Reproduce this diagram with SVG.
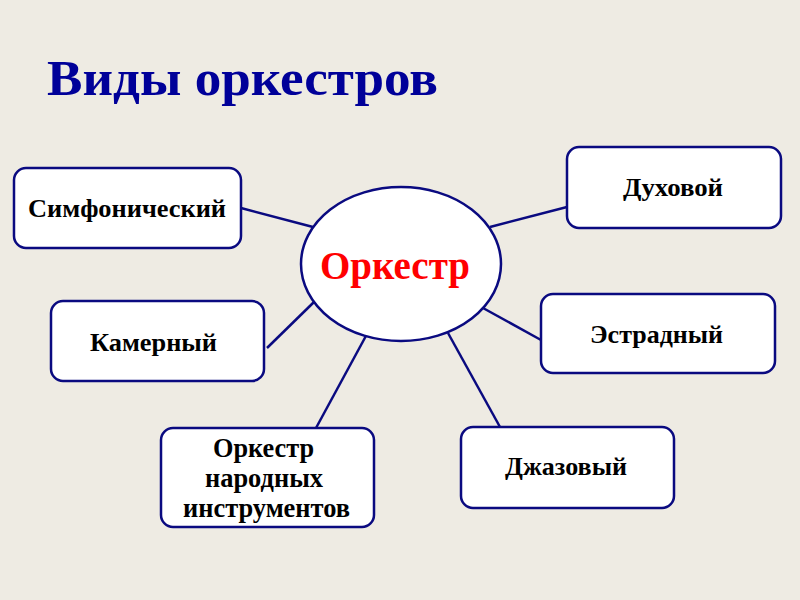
<svg xmlns="http://www.w3.org/2000/svg" width="800" height="600" viewBox="0 0 800 600">
<style>
.box{fill:#ffffff;stroke:#0a0a80;stroke-width:2.5}
.con{stroke:#0a0a80;stroke-width:2.5;fill:none}
.lbl{font-family:"Liberation Serif","Times New Roman",serif;font-weight:bold;font-size:26px;fill:#000000}
.folk{font-size:28px}
.title{font-family:"Liberation Serif","Times New Roman",serif;font-weight:bold;font-size:51px;fill:#000099}
.center{font-family:"Liberation Serif","Times New Roman",serif;font-weight:bold;font-size:39px;fill:#ff0000}
</style>
<rect x="0" y="0" width="800" height="600" fill="#eeebe3"/>
<text class="title" x="47" y="95" textLength="391" lengthAdjust="spacingAndGlyphs">Виды оркестров</text>
<g id="connectors">
<line class="con" x1="241" y1="208" x2="313" y2="227"/>
<line class="con" x1="490" y1="227" x2="567" y2="207"/>
<line class="con" x1="267" y1="348" x2="314" y2="302"/>
<line class="con" x1="367" y1="334" x2="316" y2="428"/>
<line class="con" x1="448" y1="333" x2="500" y2="427"/>
<line class="con" x1="483" y1="308" x2="541" y2="340"/>
</g>
<g id="center">
<ellipse class="box" cx="401" cy="264" rx="100" ry="77"/>
<text class="center" x="320" y="279" textLength="150" lengthAdjust="spacingAndGlyphs">Оркестр</text>
</g>
<g id="symphonic">
<rect class="box" x="14" y="168" width="227" height="80" rx="12"/>
<text class="lbl" x="28" y="217" textLength="198" lengthAdjust="spacingAndGlyphs">Симфонический</text>
</g>
<g id="wind">
<rect class="box" x="567" y="147" width="214" height="81" rx="12"/>
<text class="lbl" x="623" y="196" textLength="100" lengthAdjust="spacingAndGlyphs">Духовой</text>
</g>
<g id="chamber">
<rect class="box" x="51" y="301" width="213" height="80" rx="12"/>
<text class="lbl" x="90" y="351" textLength="127" lengthAdjust="spacingAndGlyphs">Камерный</text>
</g>
<g id="estrada">
<rect class="box" x="541" y="294" width="234" height="79" rx="12"/>
<text class="lbl" x="590" y="343" textLength="133" lengthAdjust="spacingAndGlyphs">Эстрадный</text>
</g>
<g id="folk">
<rect class="box" x="161" y="428" width="213" height="99" rx="12"/>
<text class="lbl folk" x="213" y="457" textLength="101" lengthAdjust="spacingAndGlyphs">Оркестр</text>
<text class="lbl folk" x="205" y="487" textLength="118" lengthAdjust="spacingAndGlyphs">народных</text>
<text class="lbl folk" x="183" y="517" textLength="167" lengthAdjust="spacingAndGlyphs">инструментов</text>
</g>
<g id="jazz">
<rect class="box" x="461" y="427" width="213" height="81" rx="12"/>
<text class="lbl" x="505" y="475" textLength="122" lengthAdjust="spacingAndGlyphs">Джазовый</text>
</g>
</svg>
